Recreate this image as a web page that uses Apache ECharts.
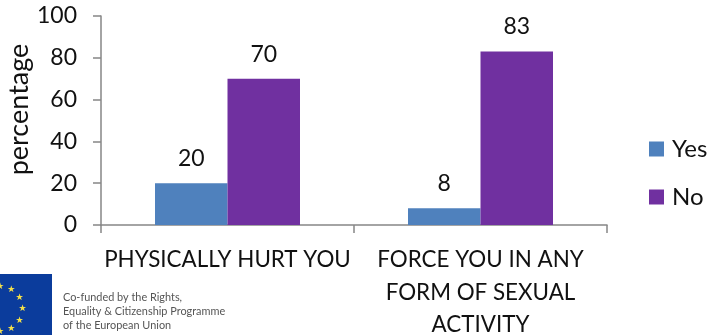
<!DOCTYPE html>
<html>
<head>
<meta charset="utf-8">
<style>html,body{margin:0;padding:0;background:#fff}#chart{width:707px;height:335px}</style>
<script src="https://cdn.jsdelivr.net/npm/echarts@6/dist/echarts.min.js"></script>
</head>
<body>
<div id="chart"></div>
<script>
// Survey answers, in percent
const categories = ['PHYSICALLY HURT YOU', 'FORCE YOU IN ANY\nFORM OF SEXUAL\nACTIVITY'];
const yesValues = [20, 8];
const noValues = [70, 83];
const yTicks = { min: 0, max: 100, interval: 20 };
const fundingLines = ['Co-funded by the Rights,', 'Equality & Citizenship Programme', 'of the European Union'];

const FONT = 'Lato, Carlito, sans-serif';
const AXIS = '#868686';
const TEXT = '#111111';

const labelStyle = { show: true, position: 'top', distance: 13, fontFamily: FONT, fontSize: 23, color: TEXT };

// Ring of EU stars, centred just off the left edge of the flag
const stars = [];
for (let i = 0; i < 12; i++) {
  const a = (i * 30) * Math.PI / 180;
  stars.push({
    type: 'text',
    x: 0 + 22.5 * Math.sin(a),
    y: 309 - 22.5 * Math.cos(a),
    style: { text: '★', fontSize: 9, fill: '#f4e04a', align: 'center', verticalAlign: 'middle', fontFamily: 'DejaVu Sans' }
  });
}

const chart = echarts.init(document.getElementById('chart'), null, { renderer: 'canvas' });
chart.setOption({
  animation: false,
  backgroundColor: '#ffffff',
  textStyle: { fontFamily: FONT },
  grid: { left: 101, right: 100, top: 16, bottom: 110, containLabel: false, outerBoundsMode: 'none' },
  legend: {
    orient: 'vertical', left: 644, top: 132, itemWidth: 15, itemHeight: 15, itemGap: 24,
    icon: 'rect', data: ['Yes', 'No'],
    textStyle: { fontFamily: FONT, fontSize: 24, color: TEXT, padding: [0, 0, 0, 3] }
  },
  xAxis: {
    type: 'category', data: categories, boundaryGap: true,
    axisLine: { lineStyle: { color: AXIS, width: 1.5 } },
    axisTick: { show: true, alignWithLabel: false, length: 8, lineStyle: { color: AXIS, width: 1.5 } },
    axisLabel: { fontFamily: FONT, fontSize: 22.4, color: TEXT, lineHeight: 32.5, margin: 19, interval: 0 }
  },
  yAxis: {
    type: 'value', min: yTicks.min, max: yTicks.max, interval: yTicks.interval,
    name: 'percentage', nameLocation: 'middle', nameGap: 68, nameRotate: 90, nameMoveOverlap: false,
    nameTextStyle: { fontFamily: FONT, fontSize: 27, color: TEXT, padding: [0, 0, 0, 22] },
    splitLine: { show: false },
    axisLine: { show: true, lineStyle: { color: AXIS, width: 1.5 } },
    axisTick: { show: true, length: 8, lineStyle: { color: AXIS, width: 1.5 } },
    axisLabel: { fontFamily: FONT, fontSize: 23, color: TEXT, margin: 24 }
  },
  series: [
    { name: 'Yes', type: 'bar', data: yesValues, barWidth: 72.5, barGap: '0%', itemStyle: { color: '#4f81bd' }, label: labelStyle },
    { name: 'No', type: 'bar', data: noValues, barWidth: 72.5, barGap: '0%', itemStyle: { color: '#7030a0' }, label: labelStyle }
  ],
  graphic: [
    { type: 'rect', shape: { x: 0, y: 274, width: 52, height: 61 }, style: { fill: '#0b3c9c' } }
  ].concat(stars).concat(fundingLines.map((line, i) => ({
    type: 'text', x: 63, y: 297 + i * 14.3,
    style: { text: line, fontFamily: FONT, fontSize: 10.9, fill: '#555555', verticalAlign: 'middle' }
  })))
});
</script>
</body>
</html>
